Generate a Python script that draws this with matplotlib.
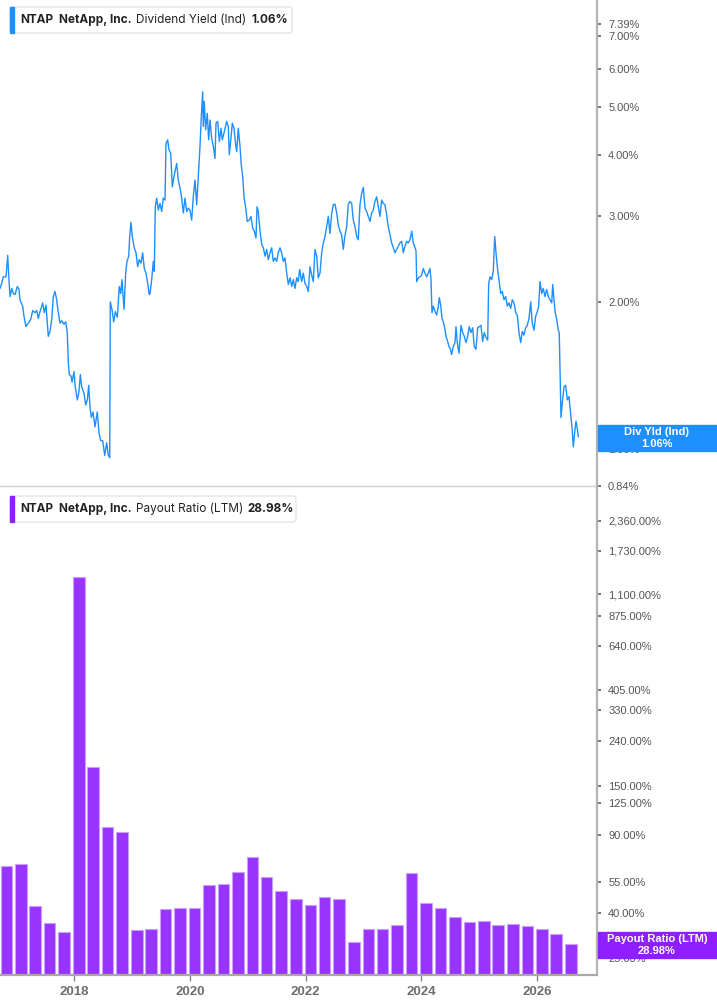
import numpy as np
import pandas as pd
import matplotlib
matplotlib.use("Agg")
import matplotlib.pyplot as plt
from matplotlib.patches import FancyBboxPatch, Rectangle

plt.rcParams['font.family'] = ['Liberation Sans', 'DejaVu Sans']

# --- Dividend yield (Ind), % : decimal year / value ---
div_t = [
    2016.722, 2016.751, 2016.779, 2016.826, 2016.855, 2016.877, 2016.895, 2016.924, 2016.952, 2016.981,
    2017.021, 2017.050, 2017.067, 2017.114, 2017.136, 2017.171, 2017.211, 2017.252, 2017.287, 2017.326,
    2017.356, 2017.383, 2017.413, 2017.459, 2017.487, 2017.516, 2017.556, 2017.586, 2017.615, 2017.643,
    2017.672, 2017.701, 2017.729, 2017.758, 2017.788, 2017.827, 2017.857, 2017.884, 2017.902, 2017.919,
    2017.948, 2017.966, 2018.000, 2018.022, 2018.057, 2018.086, 2018.109, 2018.133, 2018.173, 2018.202,
    2018.230, 2018.254, 2018.276, 2018.299, 2018.328, 2018.363, 2018.402, 2018.432, 2018.461, 2018.496,
    2018.530, 2018.565, 2018.593, 2018.617, 2018.627, 2018.656, 2018.686, 2018.713, 2018.748, 2018.782,
    2018.807, 2018.829, 2018.864, 2018.893, 2018.915, 2018.945, 2018.962, 2018.984, 2019.007, 2019.041,
    2019.071, 2019.100, 2019.128, 2019.157, 2019.186, 2019.214, 2019.243, 2019.273, 2019.300, 2019.313,
    2019.342, 2019.370, 2019.387, 2019.404, 2019.428, 2019.456, 2019.485, 2019.515, 2019.542, 2019.572,
    2019.589, 2019.618, 2019.641, 2019.670, 2019.698, 2019.727, 2019.774, 2019.801, 2019.831, 2019.860,
    2019.888, 2019.917, 2019.946, 2019.974, 2020.003, 2020.033, 2020.060, 2020.090, 2020.119, 2020.147,
    2020.176, 2020.199, 2020.223, 2020.233, 2020.250, 2020.274, 2020.302, 2020.326, 2020.349, 2020.378,
    2020.406, 2020.435, 2020.453, 2020.482, 2020.510, 2020.539, 2020.561, 2020.591, 2020.637, 2020.665,
    2020.682, 2020.711, 2020.734, 2020.763, 2020.793, 2020.810, 2020.838, 2020.867, 2020.889, 2020.914,
    2020.936, 2020.966, 2020.993, 2021.028, 2021.057, 2021.086, 2021.114, 2021.143, 2021.161, 2021.183,
    2021.213, 2021.242, 2021.270, 2021.299, 2021.328, 2021.356, 2021.385, 2021.414, 2021.442, 2021.471,
    2021.501, 2021.528, 2021.558, 2021.587, 2021.615, 2021.644, 2021.674, 2021.701, 2021.731, 2021.760,
    2021.788, 2021.817, 2021.846, 2021.874, 2021.898, 2021.903, 2021.932, 2021.960, 2021.990, 2022.019,
    2022.047, 2022.076, 2022.105, 2022.133, 2022.162, 2022.192, 2022.219, 2022.249, 2022.278, 2022.306,
    2022.335, 2022.364, 2022.392, 2022.421, 2022.451, 2022.479, 2022.508, 2022.537, 2022.565, 2022.594,
    2022.623, 2022.651, 2022.681, 2022.710, 2022.737, 2022.767, 2022.796, 2022.824, 2022.853, 2022.883,
    2022.910, 2022.939, 2022.969, 2022.997, 2023.026, 2023.055, 2023.083, 2023.112, 2023.141, 2023.169,
    2023.198, 2023.228, 2023.255, 2023.285, 2023.314, 2023.342, 2023.371, 2023.401, 2023.428, 2023.458,
    2023.487, 2023.515, 2023.544, 2023.573, 2023.601, 2023.630, 2023.660, 2023.687, 2023.717, 2023.746,
    2023.774, 2023.803, 2023.833, 2023.860, 2023.890, 2023.907, 2023.919, 2023.947, 2023.976, 2024.005,
    2024.033, 2024.062, 2024.092, 2024.119, 2024.148, 2024.166, 2024.183, 2024.206, 2024.235, 2024.264,
    2024.292, 2024.309, 2024.333, 2024.356, 2024.378, 2024.402, 2024.425, 2024.447, 2024.477, 2024.494,
    2024.523, 2024.551, 2024.580, 2024.598, 2024.620, 2024.650, 2024.684, 2024.713, 2024.741, 2024.770,
    2024.799, 2024.827, 2024.856, 2024.886, 2024.913, 2024.943, 2024.972, 2025.000, 2025.029, 2025.058,
    2025.086, 2025.116, 2025.145, 2025.162, 2025.185, 2025.214, 2025.242, 2025.266, 2025.289, 2025.311,
    2025.340, 2025.370, 2025.397, 2025.427, 2025.456, 2025.484, 2025.513, 2025.543, 2025.570, 2025.599,
    2025.629, 2025.656, 2025.686, 2025.715, 2025.743, 2025.772, 2025.801, 2025.829, 2025.858, 2025.888,
    2025.915, 2025.945, 2025.974, 2026.002, 2026.026, 2026.048, 2026.078, 2026.105, 2026.135, 2026.164,
    2026.192, 2026.221, 2026.251, 2026.268, 2026.290, 2026.312, 2026.337, 2026.364, 2026.381, 2026.394,
    2026.411, 2026.433, 2026.463, 2026.492, 2026.520, 2026.549, 2026.578, 2026.606, 2026.623, 2026.647,
    2026.670, 2026.693, 2026.710,
]
div_yld = [
    2.13, 2.18, 2.25, 2.25, 2.49, 2.22, 2.05, 2.13, 2.08, 2.07,
    2.15, 2.12, 2.02, 1.96, 1.87, 1.78, 1.81, 1.84, 1.92, 1.90,
    1.92, 1.85, 1.91, 1.99, 1.90, 1.97, 1.70, 1.74, 1.84, 2.05,
    2.10, 2.02, 1.90, 1.81, 1.83, 1.80, 1.82, 1.73, 1.50, 1.42,
    1.41, 1.37, 1.44, 1.34, 1.26, 1.31, 1.42, 1.34, 1.30, 1.23,
    1.26, 1.35, 1.22, 1.16, 1.19, 1.11, 1.19, 1.08, 1.04, 1.04,
    0.97, 1.03, 0.97, 0.96, 2.00, 1.93, 1.82, 1.91, 1.86, 2.15,
    2.08, 2.22, 1.93, 2.29, 2.42, 2.48, 2.72, 2.91, 2.72, 2.58,
    2.52, 2.36, 2.44, 2.40, 2.52, 2.34, 2.29, 2.18, 2.07, 2.08,
    2.22, 2.42, 2.31, 3.13, 3.26, 3.08, 3.18, 3.06, 3.26, 3.23,
    4.22, 4.29, 4.09, 4.03, 3.44, 3.61, 3.84, 3.55, 3.42, 3.26,
    3.04, 3.26, 3.06, 3.11, 3.08, 2.94, 3.28, 3.55, 3.16, 3.61,
    4.16, 4.79, 5.38, 4.57, 5.14, 4.50, 4.86, 4.29, 4.71, 4.32,
    4.16, 3.93, 4.64, 4.68, 4.26, 4.53, 4.29, 4.43, 4.68, 4.57,
    4.00, 4.32, 4.64, 4.53, 4.19, 4.06, 4.53, 4.16, 3.81, 3.61,
    3.28, 3.11, 2.92, 2.94, 2.99, 2.83, 2.79, 2.70, 3.13, 3.06,
    2.79, 2.62, 2.58, 2.48, 2.56, 2.44, 2.52, 2.58, 2.42, 2.46,
    2.42, 2.52, 2.58, 2.52, 2.42, 2.46, 2.29, 2.17, 2.24, 2.15,
    2.22, 2.13, 2.24, 2.20, 2.33, 2.31, 2.20, 2.29, 2.18, 2.15,
    2.10, 2.36, 2.27, 2.20, 2.56, 2.48, 2.24, 2.29, 2.52, 2.64,
    2.72, 2.85, 2.99, 2.76, 3.04, 3.16, 3.17, 3.04, 2.87, 2.79,
    2.74, 2.56, 2.74, 2.85, 3.16, 3.21, 3.18, 2.94, 2.85, 2.72,
    2.68, 3.16, 3.34, 3.43, 3.11, 3.06, 2.99, 2.92, 3.04, 3.08,
    3.21, 3.28, 3.13, 2.99, 3.23, 3.18, 3.16, 3.01, 2.85, 2.74,
    2.64, 2.58, 2.52, 2.56, 2.60, 2.64, 2.66, 2.52, 2.60, 2.66,
    2.64, 2.68, 2.79, 2.64, 2.58, 2.54, 2.20, 2.24, 2.25, 2.27,
    2.34, 2.29, 2.25, 2.29, 2.34, 2.22, 1.90, 1.96, 1.91, 1.88,
    1.96, 2.04, 1.97, 1.85, 1.82, 1.77, 1.70, 1.67, 1.62, 1.61,
    1.56, 1.62, 1.65, 1.78, 1.65, 1.57, 1.79, 1.73, 1.70, 1.65,
    1.70, 1.78, 1.73, 1.77, 1.62, 1.60, 1.77, 1.78, 1.79, 1.66,
    1.73, 1.69, 1.67, 2.18, 2.25, 2.22, 2.31, 2.72, 2.52, 2.36,
    2.22, 2.08, 2.10, 2.02, 2.05, 1.96, 1.99, 1.94, 2.02, 1.99,
    1.90, 1.88, 1.73, 1.65, 1.74, 1.71, 1.77, 1.79, 1.85, 2.00,
    1.81, 1.75, 1.87, 1.91, 1.96, 2.20, 2.08, 2.13, 2.05, 2.12,
    2.05, 2.02, 1.99, 2.17, 2.02, 1.90, 1.84, 1.75, 1.73, 1.47,
    1.16, 1.24, 1.34, 1.35, 1.26, 1.28, 1.18, 1.09, 1.01, 1.08,
    1.14, 1.10, 1.06,
]

# --- Payout ratio (LTM), % : one bar per fiscal quarter end ---
quarter_ends = pd.date_range("2016-10-31", periods=40, freq="QE-JAN")
payout = [
    65.0, 66.4, 42.9, 36.0, 32.7, 1310.0, 182.0, 97.8, 92.8, 33.5,
    34.0, 41.6, 42.3, 42.0, 53.4, 54.1, 61.4, 71.6, 58.0, 50.1,
    46.1, 43.3, 47.2, 46.3, 29.7, 33.8, 33.8, 35.2, 60.6, 44.2,
    42.0, 38.3, 36.3, 36.9, 35.4, 35.5, 35.1, 33.7, 32.3, 28.98,
]

top_ticks = [0.84, 1.00, 2.00, 3.00, 4.00, 5.00, 6.00, 7.00, 7.39]
bot_ticks = [25, 40, 55, 90, 125, 150, 240, 330, 405, 640, 875, 1100, 1730, 2360]
year_ticks = [2018, 2020, 2022, 2024, 2026]

blue = '#1e8fff'
purple = '#9933ff'


def dec_year(d):
    ndays = 366 if d.is_leap_year else 365
    return d.year + (d.dayofyear - 0.5) / ndays


bar_t = [dec_year(d) for d in quarter_ends]

W, H = 717, 1005
fig = plt.figure(figsize=(W / 100, H / 100), dpi=100)


def px_axes(l, t, r, b):
    return fig.add_axes([l / W, 1 - b / H, (r - l) / W, (b - t) / H])


xlim = (2016.722, 2027.033)

# top panel: dividend yield
ax1 = px_axes(0, 0, 597, 486)
ax1.plot(div_t, div_yld, color=blue, lw=1.0)
ax1.set_yscale('log')
ax1.set_ylim(0.84, 8.29)
ax1.set_xlim(*xlim)
ax1.set_xticks([])

# bottom panel: payout ratio
ax2 = px_axes(0, 487, 597, 975)
ylow = 21.0
ax2.bar(bar_t, np.array(payout) - ylow, bottom=ylow, width=0.2,
        color=purple, edgecolor='#c8a0ff', linewidth=0.8)
ax2.set_yscale('log')
ax2.set_ylim(ylow, 3350)
ax2.set_xlim(*xlim)
ax2.set_xticks(year_ticks)
ax2.set_xticklabels([str(y) for y in year_ticks], fontsize=9.5,
                    fontweight='bold', color='#6e6e6e')
ax2.tick_params(axis='x', length=4, width=1, color='#888', pad=4)

for ax, ticks, fmt in [(ax1, top_ticks, '{:.2f}%'), (ax2, bot_ticks, '{:,.2f}%')]:
    ax.yaxis.set_ticks_position('right')
    ax.yaxis.set_minor_locator(plt.NullLocator())
    ax.set_yticks(ticks)
    ax.set_yticklabels([fmt.format(v) for v in ticks])
    ax.yaxis.set_minor_locator(plt.NullLocator())
    ax.tick_params(axis='y', which='major', direction='out', length=3, width=1.4,
                   color='#777', pad=5, labelsize=8, labelcolor='#555')
    ax.spines['top'].set_visible(False)
    ax.spines['left'].set_visible(False)
    ax.spines['right'].set_color('#b4b4b4')
    ax.spines['right'].set_linewidth(1.6)
    ax.patch.set_alpha(0)

ax1.spines['bottom'].set_color('#d0d0d0')
ax1.spines['bottom'].set_linewidth(1.0)
ax2.spines['bottom'].set_color('#a8a8a8')
ax2.spines['bottom'].set_linewidth(1.6)

# overlay in pixel coordinates for legends and value boxes
ov = fig.add_axes([0, 0, 1, 1])
ov.set_xlim(0, W)
ov.set_ylim(H, 0)
ov.axis('off')


def legend_box(y0, x1, color, label, value, xs):
    ov.add_patch(FancyBboxPatch((10, y0), x1 - 10, 26,
                                boxstyle='round,pad=0,rounding_size=3',
                                fc='white', ec='#e4e4e4', lw=1))
    ov.add_patch(Rectangle((10, y0), 3.5, 26, color=color))
    yc = y0 + 13
    kw = dict(va='center', ha='left', fontsize=8.5, color='#222', family=['Inter', 'DejaVu Sans'])
    ov.text(xs[0], yc, 'NTAP', fontweight='bold', **kw)
    ov.text(xs[1], yc, 'NetApp, Inc.', fontweight='bold', **kw)
    ov.text(xs[2], yc, label, **kw)
    ov.text(xs[3], yc, value, fontweight='bold', **kw)


legend_box(7, 292, blue, 'Dividend Yield (Ind)', '1.06%', [20, 59, 136, 251])
legend_box(496, 296, '#8f1fff', 'Payout Ratio (LTM)', '28.98%', [20, 59, 136, 247])


def value_box(y0, color, line1, line2):
    ov.add_patch(Rectangle((598, y0), 119, 25.5, color=color))
    kw = dict(ha='center', va='center', fontsize=8, color='white', fontweight='bold')
    ov.text(657, y0 + 7, line1, **kw)
    ov.text(657, y0 + 18.5, line2, **kw)


value_box(425, blue, 'Div Yld (Ind)', '1.06%')
value_box(932, '#8f1fff', 'Payout Ratio (LTM)', '28.98%')

fig.savefig('out.png', dpi=100)
